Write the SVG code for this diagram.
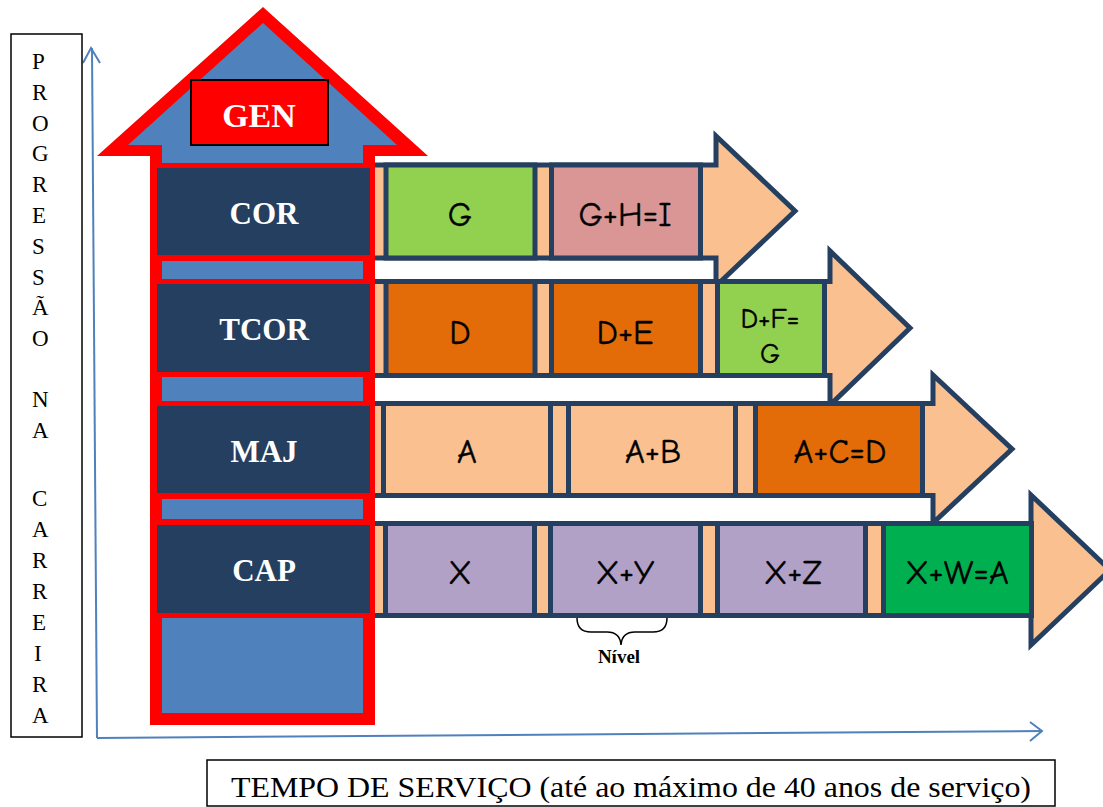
<svg xmlns="http://www.w3.org/2000/svg" width="1103" height="807" viewBox="0 0 1103 807">
<style>
.axis{stroke:#4F81BD;stroke-width:2;fill:none}
.vt{font-family:"Liberation Serif","Times New Roman",serif;font-size:23px;fill:#000}
.band{fill:#FAC090;stroke:#243F60;stroke-width:5;stroke-linejoin:miter}
.bx{stroke:#243F60;stroke-width:5}
.bt{font-family:"Comic Sans MS","Comic Neue","Noto Sans",sans-serif;font-size:34px;fill:#000;stroke:#000;stroke-width:0.4;text-anchor:middle}
.rank{fill:#243F60}
.rt{font-family:"Liberation Serif","Times New Roman",serif;font-weight:bold;font-size:31px;fill:#fff;text-anchor:middle}
.redb{fill:#FF0000}
</style>

<g id="axes">
  <line class="axis" x1="97" y1="738" x2="92" y2="48"/>
  <polyline class="axis" points="83,63 91,48 100,63"/>
  <line class="axis" x1="97" y1="738" x2="1042" y2="731"/>
  <polyline class="axis" points="1030,722 1042,731 1030,741"/>
</g>

<g id="label-progressao">
  <rect x="11" y="34" width="71" height="703" fill="#fff" stroke="#000" stroke-width="1.5"/>
  <text class="vt" x="32" y="69">P</text>
  <text class="vt" x="32" y="100">R</text>
  <text class="vt" x="32" y="131">O</text>
  <text class="vt" x="32" y="161">G</text>
  <text class="vt" x="32" y="192">R</text>
  <text class="vt" x="32" y="223">E</text>
  <text class="vt" x="32" y="254">S</text>
  <text class="vt" x="32" y="285">S</text>
  <text class="vt" x="32" y="315">Ã</text>
  <text class="vt" x="32" y="346">O</text>
  <text class="vt" x="32" y="407">N</text>
  <text class="vt" x="32" y="438">A</text>
  <text class="vt" x="32" y="506">C</text>
  <text class="vt" x="32" y="537">A</text>
  <text class="vt" x="32" y="568">R</text>
  <text class="vt" x="32" y="599">R</text>
  <text class="vt" x="32" y="630">E</text>
  <text class="vt" x="34" y="661">I</text>
  <text class="vt" x="32" y="692">R</text>
  <text class="vt" x="32" y="723">A</text>
</g>

<g id="row-cor">
  <polygon class="band" points="365,165 716,165 716,136 795,211 716,286 716,258 365,258"/>
  <rect class="bx" x="386" y="165" width="149" height="93" fill="#92D050"/>
  <rect class="bx" x="551.5" y="165" width="149" height="93" fill="#D99694"/>
  <text class="bt" x="460" y="226">G</text>
  <text class="bt" x="625" y="226">G+H=I</text>
</g>

<g id="row-tcor">
  <polygon class="band" points="365,281.5 830,281.5 830,251 910,328 830,405 830,375.5 365,375.5"/>
  <rect class="bx" x="386" y="281.5" width="149" height="94" fill="#E36C09"/>
  <rect class="bx" x="551.5" y="281.5" width="149" height="94" fill="#E36C09"/>
  <rect class="bx" x="717.5" y="281.5" width="107" height="94" fill="#92D050"/>
  <text class="bt" x="460" y="344">D</text>
  <text class="bt" x="625" y="344">D+E</text>
  <text class="bt" x="770" y="328" style="font-size:28px">D+F=</text>
  <text class="bt" x="770" y="363" style="font-size:28px">G</text>
</g>

<g id="row-maj">
  <polygon class="band" points="365,403.5 933,403.5 933,375 1012,449 933,523 933,495.5 365,495.5"/>
  <rect class="bx" x="383.5" y="403.5" width="167" height="92" fill="#FAC090"/>
  <rect class="bx" x="568.5" y="403.5" width="167" height="92" fill="#FAC090"/>
  <rect class="bx" x="755.5" y="403.5" width="167" height="92" fill="#E36C09"/>
  <text class="bt" x="467" y="463">A</text>
  <text class="bt" x="653" y="463">A+B</text>
  <text class="bt" x="840" y="463">A+C=D</text>
</g>

<g id="row-cap">
  <polygon class="band" points="365,523.5 1031,523.5 1031,495 1110,570 1031,645 1031,615.5 365,615.5"/>
  <rect class="bx" x="385.5" y="523.5" width="149" height="92" fill="#B2A1C7"/>
  <rect class="bx" x="550.5" y="523.5" width="150" height="92" fill="#B2A1C7"/>
  <rect class="bx" x="717.5" y="523.5" width="148" height="92" fill="#B2A1C7"/>
  <rect class="bx" x="883.5" y="523.5" width="148" height="92" fill="#00B050"/>
  <text class="bt" x="460" y="584">X</text>
  <text class="bt" x="625" y="584">X+Y</text>
  <text class="bt" x="793" y="584">X+Z</text>
  <text class="bt" x="957" y="584">X+W=A</text>
</g>

<g id="nivel">
  <path d="M577,618 Q577,632 591,632 L607,632 Q620,632 621,645 Q622,632 635,632 L653,632 Q667,632 667,618" fill="none" stroke="#000" stroke-width="1.5"/>
  <text x="619" y="663" font-family="Liberation Serif, Times New Roman, serif" font-weight="bold" font-size="19" text-anchor="middle">Nível</text>
</g>

<g id="career-column">
  <polygon class="redb" points="263,7 97,156 150,156 150,725 375,725 375,156 428,156"/>
  <polygon fill="#4F81BD" points="263,23 128,145 162,145 162,713 363,713 363,145 397,145"/>
</g>

<g id="rank-cor">
  <rect class="redb" x="150" y="163" width="225" height="98"/>
  <rect class="rank" x="157" y="168" width="213" height="87"/>
  <text class="rt" x="264" y="224">COR</text>
</g>
<g id="rank-tcor">
  <rect class="redb" x="150" y="279" width="225" height="98"/>
  <rect class="rank" x="157" y="284" width="213" height="88"/>
  <text class="rt" x="264" y="340">TCOR</text>
</g>
<g id="rank-maj">
  <rect class="redb" x="150" y="401" width="225" height="98"/>
  <rect class="rank" x="157" y="406" width="213" height="87"/>
  <text class="rt" x="264" y="462">MAJ</text>
</g>
<g id="rank-cap">
  <rect class="redb" x="150" y="519" width="225" height="99"/>
  <rect class="rank" x="157" y="525" width="213" height="88"/>
  <text class="rt" x="264" y="581">CAP</text>
</g>

<g id="rank-gen">
  <rect x="191" y="80" width="137" height="65" fill="#FF0000" stroke="#000" stroke-width="2"/>
  <text class="rt" x="259" y="127" style="font-size:34px">GEN</text>
</g>

<g id="label-tempo">
  <rect x="207" y="760" width="848" height="46" fill="#fff" stroke="#000" stroke-width="1.5"/>
  <text x="631" y="797" font-family="Liberation Serif, Times New Roman, serif" font-size="30" text-anchor="middle" textLength="800" lengthAdjust="spacingAndGlyphs">TEMPO DE SERVIÇO (até ao máximo de 40 anos de serviço)</text>
</g>
</svg>
